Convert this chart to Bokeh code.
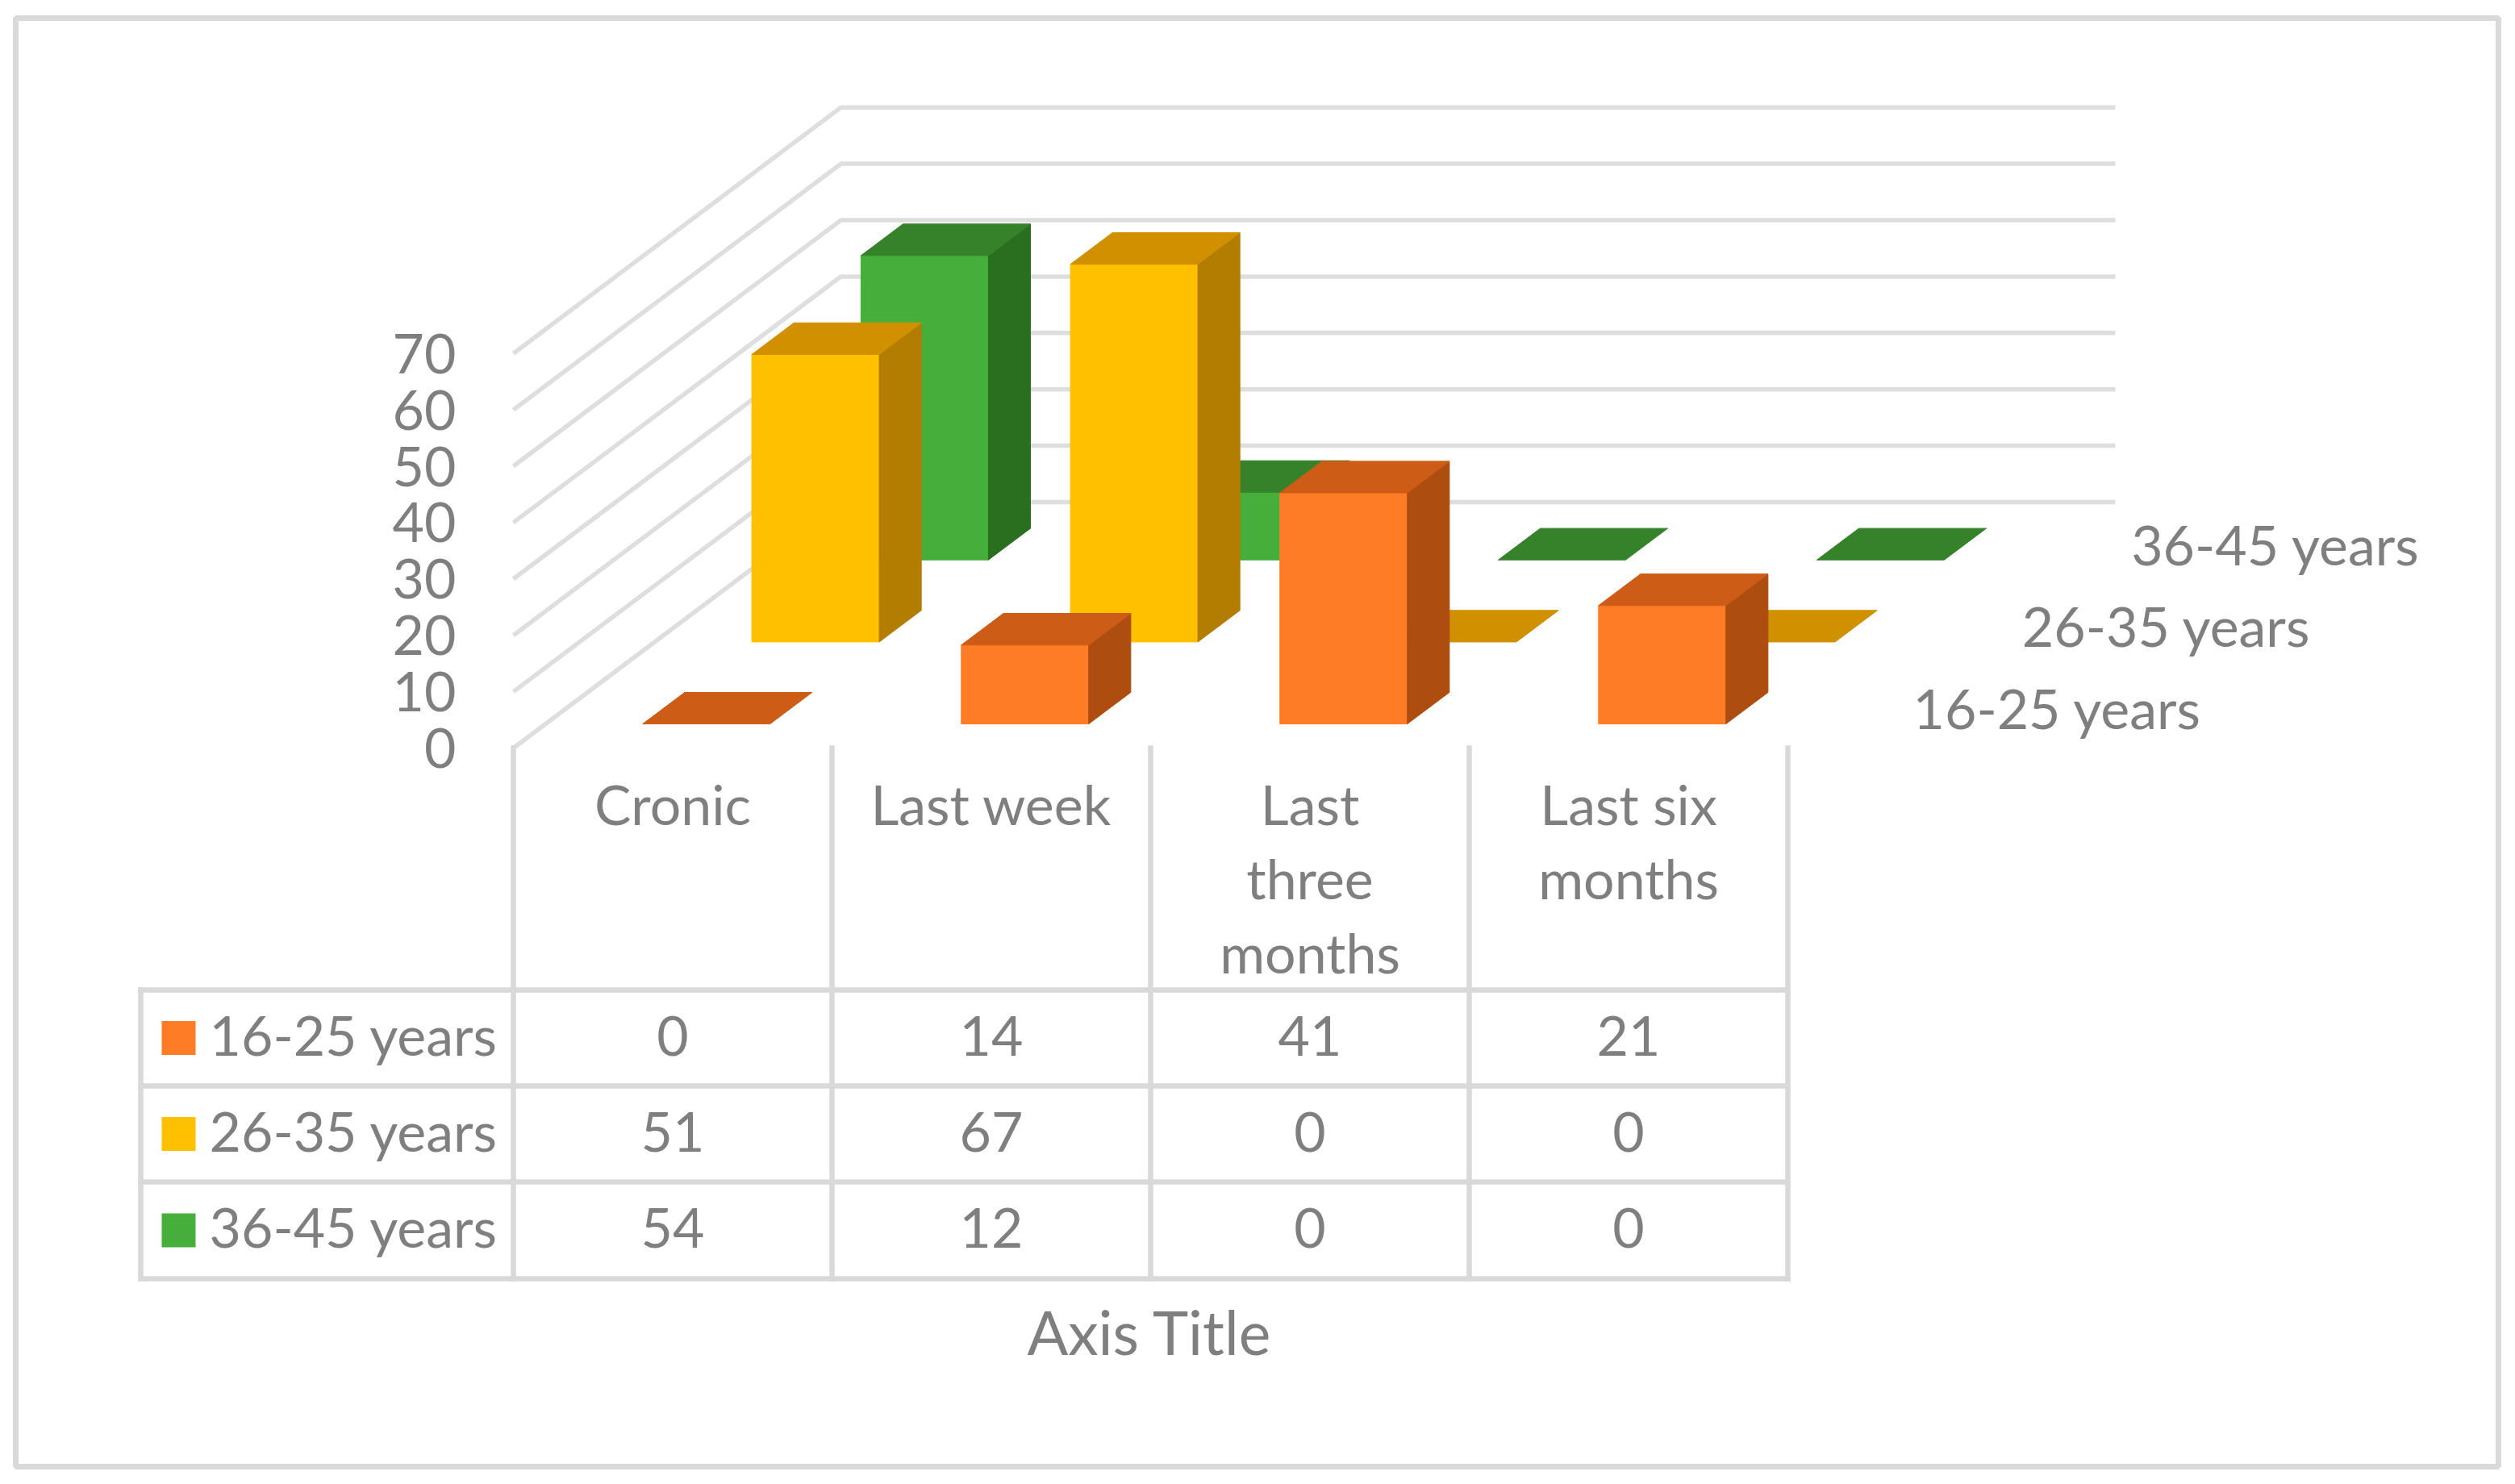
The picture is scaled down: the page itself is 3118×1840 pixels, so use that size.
from bokeh.plotting import figure
from bokeh.models import ColumnDataSource, LinearAxis, FixedTicker, Range1d
from bokeh.core.properties import value
from bokeh.embed import file_html
from bokeh.resources import INLINE

# ---- data -------------------------------------------------------------
categories = ["Cronic", "Last week", "Last three months", "Last six months"]
category_lines = [["Cronic"], ["Last week"], ["Last", "three", "months"], ["Last six", "months"]]
series_names = ["16-25 years", "26-35 years", "36-45 years"]
values_16_25 = [0, 14, 41, 21]
values_26_35 = [51, 67, 0, 0]
values_36_45 = [54, 12, 0, 0]
y_ticks = [0, 10, 20, 30, 40, 50, 60, 70]
axis_title = "Axis Title"

# ---- styles -----------------------------------------------------------
series_values = [values_16_25, values_26_35, values_36_45]
front_colors = ["#FF7C26", "#FFC000", "#46AF3B"]
top_colors = ["#CC5C16", "#D09000", "#35822B"]
side_colors = ["#AD4D10", "#B27D00", "#2A6F20"]
GRID = "#DEDEDE"
BORDER = "#D9D9D9"
TEXT = "#7F7F7F"
FONT = "Lato"
FS = "68px"
FS_TITLE = "75px"

# ---- scale: one category = 395 px, one value unit = 6.99 px -------------
X0_PX, Y0_PX, CAT_PX, UNIT_PX = 636.0, 927.0, 395.0, 6.99
def X(px):
    return (px - X0_PX) / CAT_PX
def Y(py):
    return (Y0_PX - py) / UNIT_PX

DEPTH_X = 406.0 / CAT_PX
DEPTH_Y = 305.0 / UNIT_PX
GAP = 0.305
BAR_W = 0.40
ROW_START = 0.294
ROW_DEPTH = 0.385

W, H = 3102, 1824
p = figure(width=W, height=H, output_backend="svg", toolbar_location=None,
           x_range=Range1d(X(0), X(W)), y_range=Range1d(Y(H), Y(0)),
           x_axis_location=None, y_axis_location=None,
           min_border=0, outline_line_color=None,
           background_fill_color="white", border_fill_color="white")
p.grid.visible = False

# chart frame
p.quad(left=[X(19)], right=[X(3097)], top=[Y(22)], bottom=[Y(1818)],
       fill_color="white", line_color=BORDER, line_width=7)

# walls
xs, ys = [], []
n = len(categories)
for v in y_ticks:
    xs.append([0, DEPTH_X, n + DEPTH_X])
    ys.append([v, v + DEPTH_Y, v + DEPTH_Y])
p.multi_line(xs, ys, line_color=GRID, line_width=5.5)

# bars, painted back to front
pxs, pys, pcol = [], [], []
for r in [2, 1, 0]:
    t0 = (r + ROW_START) / 3
    t1 = (r + ROW_START + ROW_DEPTH) / 3
    for i, v in enumerate(series_values[r]):
        xa = i + GAP + t0 * DEPTH_X
        xb = xa + BAR_W
        ya = t0 * DEPTH_Y
        sx = (t1 - t0) * DEPTH_X
        sy = (t1 - t0) * DEPTH_Y
        if v > 0:
            pxs.append([xa, xb, xb, xa]); pys.append([ya, ya, ya + v, ya + v]); pcol.append(front_colors[r])
            pxs.append([xb, xb + sx, xb + sx, xb]); pys.append([ya, ya + sy, ya + sy + v, ya + v]); pcol.append(side_colors[r])
        pxs.append([xa, xb, xb + sx, xa + sx]); pys.append([ya + v, ya + v, ya + v + sy, ya + v + sy]); pcol.append(top_colors[r])
p.patches(xs="xs", ys="ys", fill_color="c", line_color="c", line_width=1,
          source=ColumnDataSource(dict(xs=pxs, ys=pys, c=pcol)))

# data table grid
row_px = [1227, 1346, 1465, 1585]
table_left = X(174)
sx0, sy0, sx1, sy1 = [], [], [], []
for rp in row_px:
    sx0.append(table_left); sx1.append(n); sy0.append(Y(rp)); sy1.append(Y(rp))
for c in range(n + 1):
    sx0.append(c); sx1.append(c); sy0.append(0); sy1.append(Y(row_px[-1]))
sx0.append(table_left); sx1.append(table_left); sy0.append(Y(row_px[0])); sy1.append(Y(row_px[-1]))
p.segment(sx0, sy0, sx1, sy1, line_color=BORDER, line_width=6.5, line_cap="square")

# y axis
ax = LinearAxis(fixed_location=0, ticker=FixedTicker(ticks=y_ticks),
                axis_line_color=None, major_tick_line_color=None, minor_tick_line_color=None,
                major_label_standoff=65, major_label_text_font=FONT,
                major_label_text_font_size=FS, major_label_text_color=TEXT)
p.add_layout(ax, "left")

def put(x, y, text, align="center", size=FS):
    p.text(x=x, y=y, text=text, text_font=value(FONT), text_font_size=value(size),
           text_color=TEXT, text_align=align, text_baseline="middle")

TEXT_SHIFT = 3  # px upward for text sitting in the table
# category labels
lx, ly, lt = [], [], []
for i, lines in enumerate(category_lines):
    for k, line in enumerate(lines):
        lx.append(i + 0.5); ly.append(Y(999 + 92 * k - TEXT_SHIFT)); lt.append(line)
put(lx, ly, lt)

# table body
tx, ty, tt = [], [], []
row_centers = [(row_px[r] + row_px[r + 1]) / 2 for r in range(3)]
for r, vals in enumerate(series_values):
    for i, v in enumerate(vals):
        tx.append(i + 0.5); ty.append(Y(row_centers[r] - TEXT_SHIFT)); tt.append(str(v))
put(tx, ty, tt)
put([X(259)] * 3, [Y(c - TEXT_SHIFT - 2) for c in row_centers], series_names, align="left")

# legend keys
p.rect(x=[X(221)] * 3, y=[Y(c) for c in row_centers], width=42 / CAT_PX, height=42 / UNIT_PX,
       fill_color=front_colors, line_color=None)

# depth axis labels
dx_lab = [X(2371) + r * DEPTH_X / 3 for r in range(3)]
dy_lab = [Y(877) + r * DEPTH_Y / 3 for r in range(3)]
put(dx_lab, dy_lab, series_names, align="left")

# axis title
put([X(1425)], [Y(1650)], [axis_title], size=FS_TITLE)

open("out.html", "w").write(file_html(p, INLINE))
